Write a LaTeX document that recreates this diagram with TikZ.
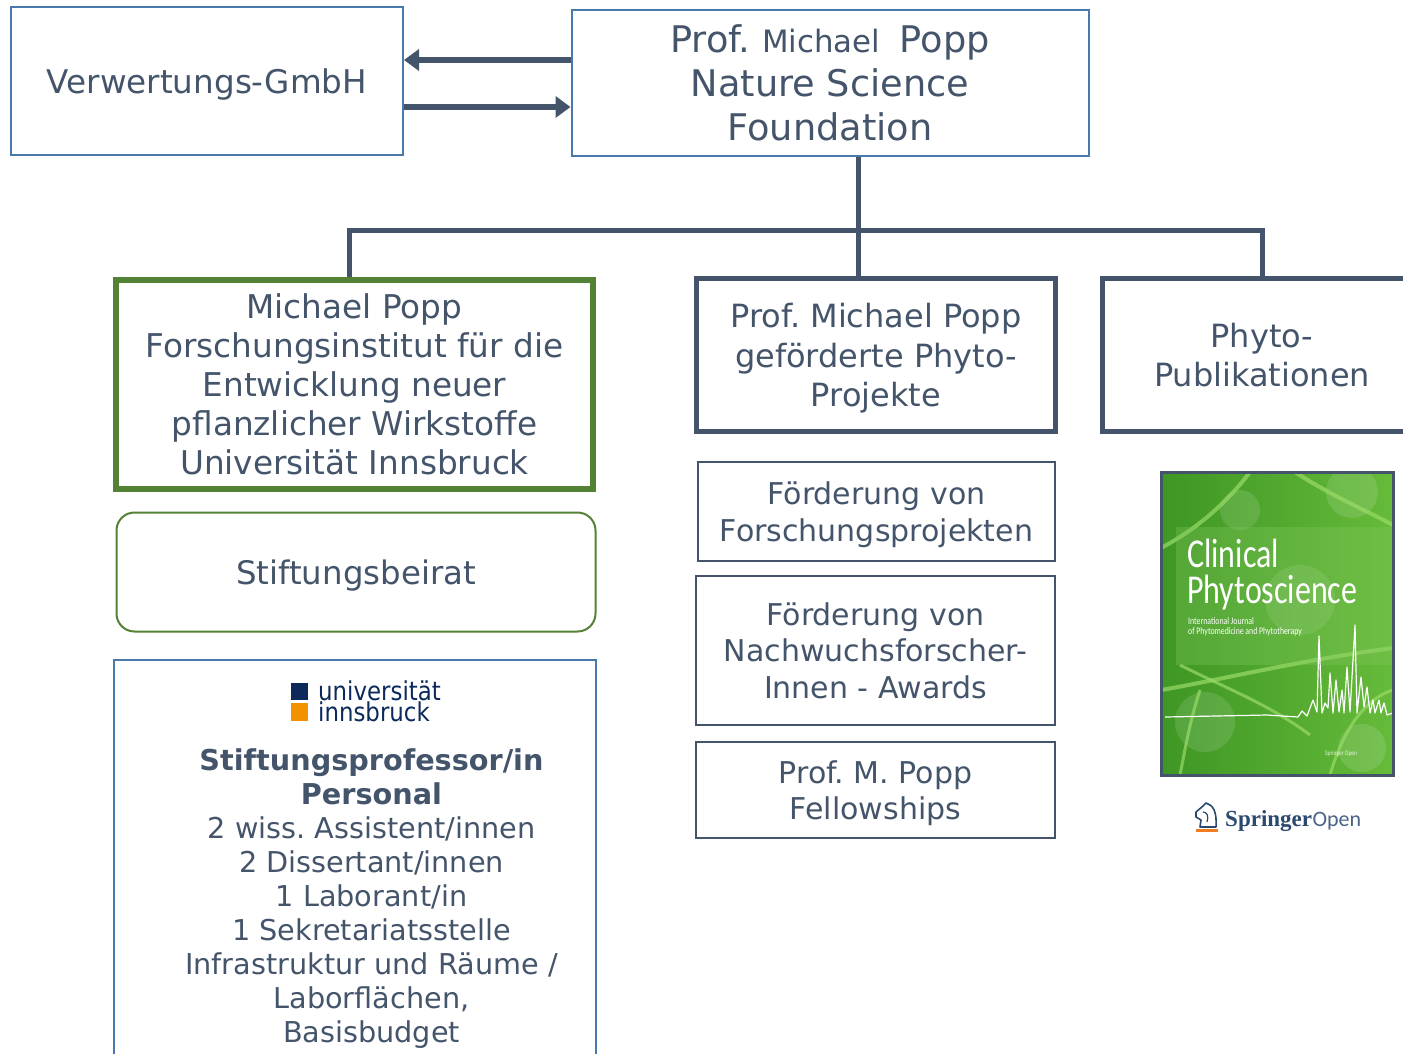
\documentclass[tikz,border=0pt]{standalone}
\usepackage{fontspec}
\setmainfont{DejaVu Sans}
\newfontfamily\coverfont[FakeStretch=0.78]{Carlito}
\newfontfamily\logofont[FakeStretch=0.88]{DejaVu Sans}
\newfontfamily\springerfont{Liberation Serif}
\newfontfamily\openfont{Carlito}
\usetikzlibrary{arrows.meta}
\definecolor{slate}{HTML}{44546A}
\definecolor{steel}{HTML}{4A7AAB}
\definecolor{leaf}{HTML}{548235}
\definecolor{uinavy}{HTML}{0B2A5B}
\definecolor{uiorange}{HTML}{F39200}
\definecolor{coverdark}{HTML}{3E9624}
\definecolor{coverlight}{HTML}{66BB3A}
\definecolor{vein}{HTML}{9ADB68}
\definecolor{springblue}{HTML}{2B486E}
\definecolor{springorange}{HTML}{EF7D22}

\begin{document}
\frenchspacing
\begin{tikzpicture}[x=1pt, y=-1pt,
    every node/.style={text=slate, align=center, inner sep=0pt, text depth=0pt},
    thinbox/.style={draw=steel, line width=2pt},
    darkbox/.style={draw=slate, line width=2pt},
    thickbox/.style={draw=slate, line width=5pt},
    tree/.style={draw=slate, line width=5pt},
    flow/.style={draw=slate, line width=6pt, -{Triangle[length=15pt,width=21pt]}}]
    \useasboundingbox (0,0) rectangle (1403,1053);
    \clip (0,0) rectangle (1403,1053);

    % top row
    \node[thinbox, minimum width=392pt, minimum height=148pt, font=\fontsize{32.6}{39}\selectfont] (verw) at (207,81) {Verwertungs-GmbH};
    \node[thinbox, minimum width=517pt, minimum height=146pt, font=\fontsize{36.7}{44}\selectfont] (found) at (830,83)
      {Prof. {\fontsize{30.8}{44}\selectfont Michael\ \ }Popp\\Nature Science\\Foundation};
    \draw[flow] (found.west |- 0,60) -- (verw.east |- 0,60);
    \draw[flow] (verw.east |- 0,107) -- (found.west |- 0,107);

    % second row
    \node[draw=leaf, line width=6pt, minimum width=477pt, minimum height=209pt, font=\fontsize{32.7}{39}\selectfont] (inst) at (354.5,384.5)
      {Michael Popp\\Forschungsinstitut für die\\Entwicklung neuer\\pflanzlicher Wirkstoffe\\Universität Innsbruck};
    \node[thickbox, minimum width=359pt, minimum height=153pt, font=\fontsize{32}{39.5}\selectfont] (mid) at (876,355)
      {Prof. Michael Popp\\geförderte Phyto-\\Projekte};
    \node[thickbox, minimum width=319pt, minimum height=153pt, font=\fontsize{32}{39.5}\selectfont] (phyto) at (1262,355)
      {Phyto-\\Publikationen};

    \coordinate (hub) at (858,230);
    \draw[tree] (found.south -| hub) -- (hub |- mid.north);
    \draw[tree] ([xshift=-5pt]inst.north) |- (hub) -| (phyto.north);

    % left column
    \node[draw=leaf, line width=2pt, rounded corners=18pt, minimum width=479pt, minimum height=119pt, font=\fontsize{32.4}{39}\selectfont] (beirat) at (356,572) {Stiftungsbeirat};
    \node[thinbox, minimum width=482pt, minimum height=440pt] (stift) at (354.5,880) {};
    \fill[uinavy] (291,683) rectangle (308,700);
    \fill[uiorange] (291,703) rectangle (308,721);
    \node[anchor=west, align=left, text=uinavy, font=\logofont\fontsize{26}{19}\selectfont] (uibk) at (318,701) {universität\\innsbruck};
    \node[anchor=north, font=\fontsize{28.7}{34}\selectfont] (staff) at (371.5,748)
      {\textbf{Stiftungsprofessor/in}\\\textbf{Personal}\\2 wiss. Assistent/innen\\2 Dissertant/innen\\1 Laborant/in\\1 Sekretariatsstelle\\Infrastruktur und Räume /\\Laborflächen,\\Basisbudget};

    % middle column
    \node[darkbox, minimum width=357pt, minimum height=99pt, font=\fontsize{30}{37}\selectfont] (res) at (876.5,511.5) {Förderung von\\Forschungsprojekten};
    \node[darkbox, minimum width=359pt, minimum height=149pt, font=\fontsize{30}{36.5}\selectfont] (award) at (875.5,650.5) {Förderung von\\Nachwuchsforscher-\\Innen - Awards};
    \node[darkbox, minimum width=359pt, minimum height=96pt, font=\fontsize{30}{36}\selectfont] (fellow) at (875.5,790) {Prof. M. Popp\\Fellowships};

    % journal cover
    \begin{scope}
      \clip (1161,472) rectangle (1393,775);
      \shade[left color=coverdark, right color=coverlight] (1161,472) rectangle (1393,775);
      \foreach \cx/\cy/\r in {1240/510/20, 1352/492/26, 1205/722/30, 1362/748/24, 1300/600/35}
        \fill[white, opacity=0.12] (\cx,\cy) circle (\r);
      \draw[vein, line width=4pt, opacity=0.7] (1250,472) .. controls (1225,505) and (1195,530) .. (1161,548);
      \draw[vein, line width=4pt, opacity=0.7] (1295,472) .. controls (1330,495) and (1365,510) .. (1393,525);
      \draw[vein, line width=4pt, opacity=0.7] (1161,690) .. controls (1220,680) and (1300,660) .. (1393,648);
      \draw[vein, line width=3pt, opacity=0.7] (1180,665) .. controls (1230,690) and (1270,705) .. (1310,735);
      \draw[vein, line width=3pt, opacity=0.7] (1200,690) .. controls (1190,720) and (1185,750) .. (1180,775);
      \draw[vein, line width=3pt, opacity=0.7] (1330,775) .. controls (1340,740) and (1360,700) .. (1393,690);
      \fill[coverlight!80!white, opacity=0.3] (1176,527) rectangle (1393,665);
      \draw[white, line width=1.2pt, line join=round] (1165,717) -- (1267,715) -- (1298,717)
        \foreach \px/\py in {1302/711, 1307/716, 1313/700, 1317/712, 1319/636, 1322/713, 1325/703, 1328/708,
          1330/673, 1333/713, 1336/680, 1339/712, 1342/690, 1344/713, 1347/667, 1350/712, 1355/625, 1357/713,
          1361/677, 1364/707, 1367/687, 1370/713, 1373/700, 1375/713, 1379/700, 1381/713, 1384/703, 1387/715, 1393/713}
        { -- (\px,\py) };
    \end{scope}
    \draw[slate, line width=3pt] (1161,472) rectangle (1393,775);
    \node[anchor=base west, text=white, font=\coverfont\fontsize{41}{41}\selectfont] (cvtitle) at (1187,567) {Clinical};
    \node[anchor=base west, text=white, font=\coverfont\fontsize{41}{41}\selectfont] (cvsub) at (1187,603) {Phytoscience};
    \node[anchor=base west, text=white, font=\coverfont\fontsize{10}{10}\selectfont] (cvline1) at (1188,624) {International Journal};
    \node[anchor=base west, text=white, font=\coverfont\fontsize{10}{10}\selectfont] (cvline2) at (1188,634) {of Phytomedicine and Phytotherapy};
    \node[anchor=base west, text=white!85!coverlight, font=\coverfont\fontsize{7}{7}\selectfont] (cvpub) at (1325,755) {Springer Open};

    % publisher logo
    \draw[springblue, line width=1.6pt, line join=round] (1200,827) -- (1201,820) -- (1196,817) -- (1196,812) -- (1203,806) -- (1206,803)
      .. controls (1213,805) and (1217,811) .. (1216,827) -- cycle;
    \draw[springblue, line width=1.2pt] (1203,812) .. controls (1207,812) and (1209,816) .. (1207,822);
    \fill[springorange] (1196,829) rectangle (1218,832);
    \node[anchor=base west, text=springblue, font=\springerfont\bfseries\fontsize{23}{23}\selectfont] (springer) at (1225,826) {Springer};
    \node[anchor=base west, text=springblue!85!white, font=\openfont\fontsize{22}{22}\selectfont] (open) at (springer.base east) {Open};
\end{tikzpicture}
\end{document}
